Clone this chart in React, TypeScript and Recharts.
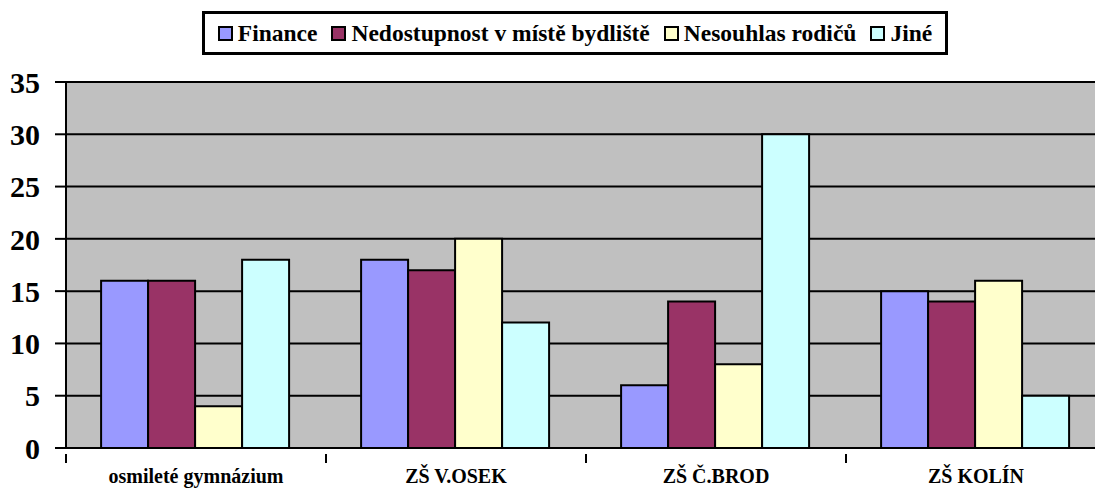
import { Bar, BarChart, CartesianGrid, Legend, XAxis, YAxis } from 'recharts';

const schools = ['osmileté gymnázium', 'ZŠ V.OSEK', 'ZŠ Č.BROD', 'ZŠ KOLÍN'];
const finance = [16, 18, 6, 15];
const nedostupnost = [16, 17, 14, 14];
const nesouhlas = [4, 20, 8, 16];
const jine = [18, 12, 30, 5];
const yTicks = [0, 5, 10, 15, 20, 25, 30, 35];

const seriesInfo = [
  { key: 'finance', name: 'Finance', color: '#9999FF' },
  { key: 'nedostupnost', name: 'Nedostupnost v místě bydliště', color: '#993366' },
  { key: 'nesouhlas', name: 'Nesouhlas rodičů', color: '#FFFFCC' },
  { key: 'jine', name: 'Jiné', color: '#CCFFFF' },
];

const data = schools.map((name, i) => ({
  name,
  finance: finance[i],
  nedostupnost: nedostupnost[i],
  nesouhlas: nesouhlas[i],
  jine: jine[i],
}));

const font = '"Liberation Serif", "Times New Roman", serif';

function LegendBox() {
  return (
    <div
      style={{
        border: '3px solid #000',
        height: 38,
        width: 740,
        boxSizing: 'content-box',
        display: 'flex',
        alignItems: 'center',
        justifyContent: 'center',
        fontFamily: font,
        fontWeight: 'bold',
        fontSize: 23.5,
        color: '#000',
        background: '#fff',
      }}
    >
      {seriesInfo.map((s, i) => (
        <span
          key={s.key}
          style={{
            display: 'flex',
            alignItems: 'center',
            marginRight: i < seriesInfo.length - 1 ? 14 : 0,
          }}
        >
          <span
            style={{
              width: 11,
              height: 11,
              background: s.color,
              border: '2.5px solid #000',
              marginRight: 5,
              display: 'inline-block',
            }}
          />
          {s.name}
        </span>
      ))}
    </div>
  );
}

function CategoryTick(props: any) {
  const { x, y, payload } = props;
  const half = payload.offset || 0;
  return (
    <g>
      <line x1={x - half} x2={x - half} y1={y - 2} y2={y + 7} stroke="#000" strokeWidth={2} />
      <text
        x={x}
        y={y + 27}
        textAnchor="middle"
        fontFamily={font}
        fontWeight="bold"
        fontSize={20}
        fill="#000"
      >
        {payload.value}
      </text>
    </g>
  );
}

export default function App() {
  return (
    <div
      style={{
        position: 'absolute',
        left: 0,
        top: 0,
        width: 1095,
        height: 489,
        overflow: 'hidden',
        background: '#fff',
      }}
    >
      <BarChart
        width={1110}
        height={489}
        data={data}
        barCategoryGap="13.5%"
        barGap={0}
        margin={{ top: 38, right: 4, bottom: 0, left: 0 }}
      >
        <CartesianGrid
          vertical={false}
          fill="#C0C0C0"
          fillOpacity={1}
          stroke="#000"
          strokeWidth={2}
        />
        <Legend
          verticalAlign="top"
          content={() => <LegendBox />}
          wrapperStyle={{ top: 11, left: 202, width: 746 }}
        />
        <XAxis
          dataKey="name"
          axisLine={{ stroke: '#000', strokeWidth: 2 }}
          tickLine={false}
          tick={<CategoryTick />}
          height={41}
          interval={0}
        />
        <YAxis
          domain={[0, 35]}
          ticks={yTicks}
          width={66}
          axisLine={{ stroke: '#000', strokeWidth: 2 }}
          tickLine={{ stroke: '#000', strokeWidth: 2 }}
          tickSize={11}
          tickMargin={15}
          tick={{ fill: '#000', fontSize: 30, fontWeight: 'bold', fontFamily: font }}
        />
        {seriesInfo.map((s) => (
          <Bar
            key={s.key}
            dataKey={s.key}
            name={s.name}
            fill={s.color}
            stroke="#000"
            strokeWidth={2}
            isAnimationActive={false}
          />
        ))}
      </BarChart>
    </div>
  );
}
